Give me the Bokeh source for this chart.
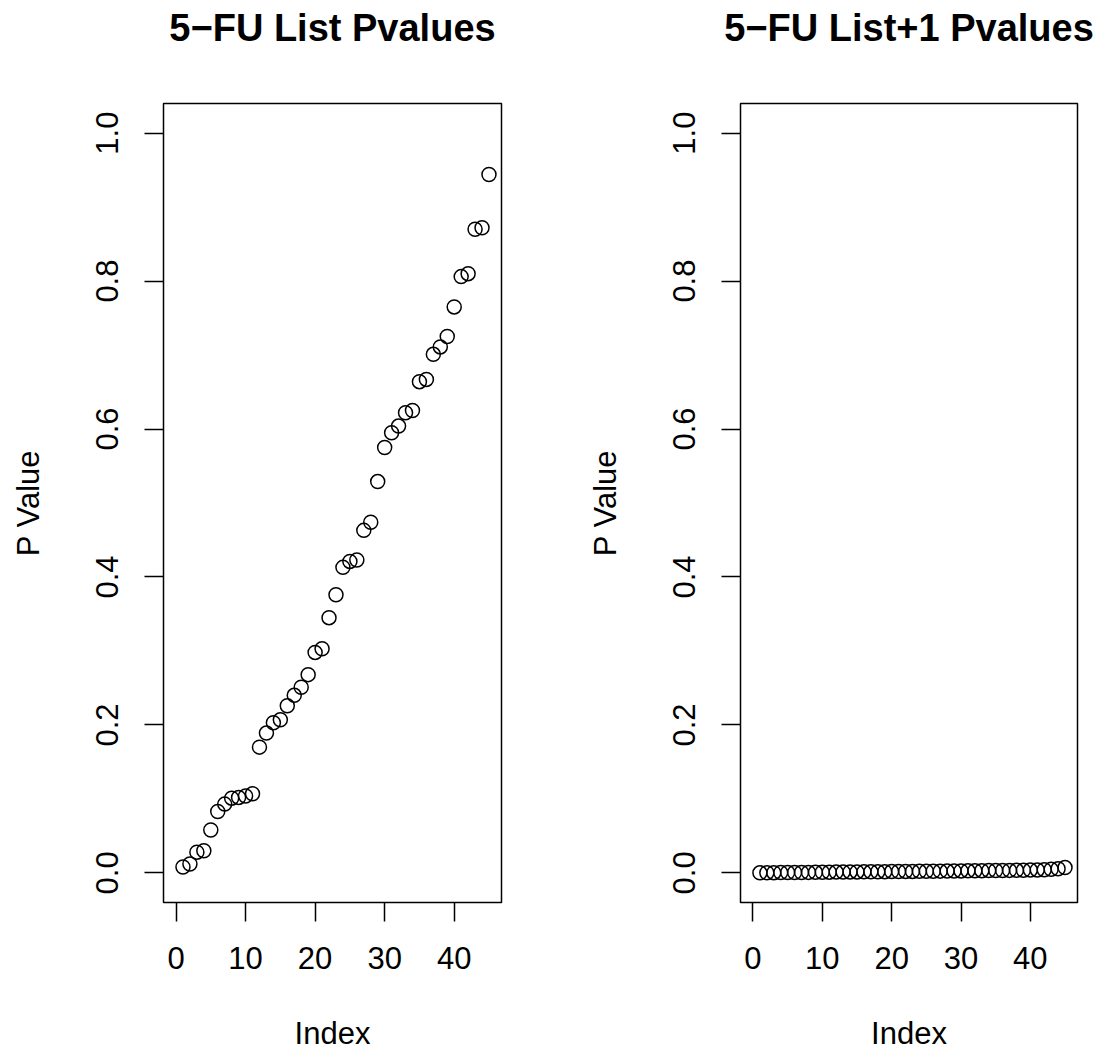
from bokeh.plotting import figure
from bokeh.layouts import row
from bokeh.models import FixedTicker, Range1d, PrintfTickFormatter, Title
from bokeh.embed import file_html
from bokeh.resources import INLINE

# Sorted p-values for the 5-FU gene list
index = list(range(1, 46))
pvals_list = [
    0.008, 0.012, 0.028, 0.030, 0.058, 0.083, 0.093, 0.101, 0.102, 0.104,
    0.107, 0.170, 0.189, 0.203, 0.207, 0.226, 0.240, 0.251, 0.268, 0.298,
    0.303, 0.345, 0.376, 0.413, 0.421, 0.423, 0.463, 0.474, 0.529, 0.575,
    0.595, 0.604, 0.622, 0.625, 0.664, 0.667, 0.701, 0.711, 0.725, 0.765,
    0.806, 0.810, 0.870, 0.872, 0.944,
]
# Sorted p-values for the 5-FU list+1
pvals_list_plus1 = [
    0.0001, 0.0002, 0.0003, 0.0004, 0.0005, 0.0006, 0.0006, 0.0007, 0.0008, 0.0009,
    0.0010, 0.0011, 0.0012, 0.0013, 0.0013, 0.0014, 0.0015, 0.0016, 0.0017, 0.0018,
    0.0019, 0.0020, 0.0020, 0.0021, 0.0022, 0.0023, 0.0024, 0.0025, 0.0026, 0.0027,
    0.0028, 0.0029, 0.0030, 0.0031, 0.0032, 0.0033, 0.0034, 0.0035, 0.0036, 0.0038,
    0.0040, 0.0043, 0.0048, 0.0056, 0.0072,
]
titles = ["5\u2212FU List Pvalues", "5\u2212FU List+1 Pvalues"]
x_label = "Index"
y_label = "P Value"
x_ticks = [0, 10, 20, 30, 40]
y_ticks = [0.0, 0.2, 0.4, 0.6, 0.8, 1.0]

FONT = "Liberation Sans"


def panel(title, ys, width, border_left, border_right):
    p = figure(
        width=width, height=1054,
        output_backend="svg", toolbar_location=None,
        x_range=Range1d(-1.8, 46.8), y_range=Range1d(-0.04, 1.04),
        min_border_left=border_left, min_border_right=border_right,
        min_border_top=103, min_border_bottom=152,
        background_fill_color="white", border_fill_color="white",
    )
    p.grid.visible = False
    p.outline_line_color = "black"
    p.outline_line_width = 1.5

    # blank band between the box and the heading
    p.add_layout(Title(text=" ", text_font_size="10px", standoff=42), "above")
    # heading
    p.add_layout(Title(
        text=title, align="center", text_font=FONT, text_font_style="bold",
        text_font_size="38px", text_color="black", standoff=0,
    ), "above")

    for ax in (p.xaxis[0], p.yaxis[0]):
        ax.axis_line_color = None
        ax.major_tick_line_color = "black"
        ax.major_tick_line_width = 1.5
        ax.major_tick_out = 19
        ax.major_tick_in = 0
        ax.minor_tick_line_color = None
        ax.major_label_text_font = FONT
        ax.major_label_text_font_size = "31px"
        ax.major_label_text_color = "black"
        ax.axis_label_text_font = FONT
        ax.axis_label_text_font_size = "31px"
        ax.axis_label_text_font_style = "normal"
        ax.axis_label_text_color = "black"

    p.xaxis.ticker = FixedTicker(ticks=x_ticks)
    p.xaxis.axis_label = x_label
    p.xaxis.major_label_standoff = 25
    p.xaxis.axis_label_standoff = 44

    p.yaxis.ticker = FixedTicker(ticks=y_ticks)
    p.yaxis.formatter = PrintfTickFormatter(format="%.1f")
    p.yaxis.major_label_orientation = "vertical"
    p.yaxis.axis_label = y_label
    p.yaxis.major_label_standoff = 26
    p.yaxis.axis_label_standoff = 48

    p.scatter(index, ys, marker="circle", size=14,
              fill_color=None, line_color="black", line_width=1.5)
    return p


p1 = panel(titles[0], pvals_list, 547, 163, 46)
p2 = panel(titles[1], pvals_list_plus1, 546, 193, 16)

layout = row(p1, p2)
open("out.html", "w").write(file_html(layout, INLINE))
